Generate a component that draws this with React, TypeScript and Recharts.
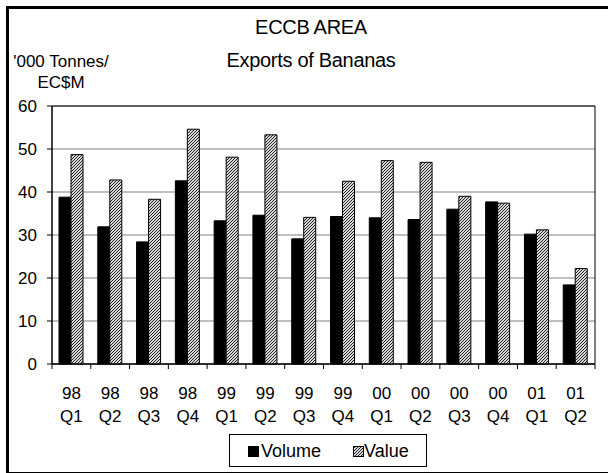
import React from 'react';
import { BarChart, Bar, XAxis, YAxis, CartesianGrid, ReferenceArea } from 'recharts';

const categories = ['98 Q1', '98 Q2', '98 Q3', '98 Q4', '99 Q1', '99 Q2', '99 Q3', '99 Q4', '00 Q1', '00 Q2', '00 Q3', '00 Q4', '01 Q1', '01 Q2'];
const volume = [38.8, 31.9, 28.4, 42.6, 33.3, 34.6, 29.1, 34.3, 34.0, 33.6, 36.0, 37.7, 30.2, 18.4];
const value = [48.7, 42.8, 38.3, 54.6, 48.1, 53.3, 34.1, 42.5, 47.3, 46.9, 39.0, 37.4, 31.2, 22.2];
const yTicks = [0, 10, 20, 30, 40, 50, 60];
const seriesNames = ['Volume', 'Value'];
const titleLines = ['ECCB AREA', 'Exports of Bananas'];
const yLabelLines = ["'000 Tonnes/", 'EC$M'];

const data = categories.map((c, i) => ({ cat: c, volume: volume[i], value: value[i] }));

const FONT = '"Liberation Sans", Arial, sans-serif';

const CatTick = (props: any) => {
  const { x, y, payload, index } = props;
  const off = payload && typeof payload.offset === 'number' ? payload.offset : 0;
  const parts = String(payload.value).split(' ');
  const last = index === categories.length - 1;
  return (
    <g>
      <line x1={x - off} y1={y} x2={x - off} y2={y + 5} stroke="#000" strokeWidth={1} />
      {last && <line x1={x + off} y1={y} x2={x + off} y2={y + 5} stroke="#000" strokeWidth={1} />}
      <text x={x} y={y + 35} textAnchor="middle" fontSize={17} fontFamily={FONT} fill="#000">{parts[0]}</text>
      <text x={x} y={y + 58} textAnchor="middle" fontSize={17} fontFamily={FONT} fill="#000">{parts[1]}</text>
    </g>
  );
};

const Hatch = ({ id }: { id: string }) => (
  <pattern id={id} width={3} height={3} patternUnits="userSpaceOnUse">
    <rect width={3} height={3} fill="#d8d8d8" />
    <path d="M0,3 L3,0 M-1,1 L1,-1 M2,4 L4,2" stroke="#222" strokeWidth={1} />
  </pattern>
);

export default function App() {
  return (
    <div style={{ position: 'absolute', left: 0, top: 0, width: 608, height: 473, background: '#fff', overflow: 'hidden', fontFamily: FONT }}>
      <div style={{ position: 'absolute', left: 6, top: 6, width: 640, height: 463, borderLeft: '3px solid #000', borderTop: '3px solid #000', borderBottom: '2px solid #000' }} />
      <BarChart width={608} height={473} data={data} margin={{ top: 106, right: 13, bottom: 0, left: 0 }} barGap={0} barSize={12}>
        <defs>
          <Hatch id="hatch" />
        </defs>
        <CartesianGrid horizontal={true} vertical={false} stroke="#808080" />
        <XAxis dataKey="cat" interval={0} height={109} tickSize={0} tickMargin={0} axisLine={{ stroke: '#000' }} tickLine={false} tick={<CatTick />} />
        <YAxis domain={[0, 60]} ticks={yTicks} width={52} tickSize={5} tickMargin={10} axisLine={{ stroke: '#000' }} tickLine={{ stroke: '#000' }} tick={{ fontSize: 17, fill: '#000', fontFamily: FONT }} interval={0} />
        <Bar dataKey="volume" name={seriesNames[0]} fill="#000" stroke="#000" strokeWidth={1} isAnimationActive={false} />
        <Bar dataKey="value" name={seriesNames[1]} fill="url(#hatch)" stroke="#000" strokeWidth={1} isAnimationActive={false} />
        <ReferenceArea y1={0} y2={60} fill="none" stroke="#000" strokeWidth={1} fillOpacity={0} />
      </BarChart>
      {titleLines.map((t, i) => (
        <div key={t} style={{ position: 'absolute', left: 161, width: 300, top: 15 + i * 33, textAlign: 'center', fontSize: 20, lineHeight: '24px', color: '#000', letterSpacing: -0.3 }}>{t}</div>
      ))}
      {yLabelLines.map((t, i) => (
        <div key={t} style={{ position: 'absolute', left: 0, width: 122, top: 51 + i * 21, textAlign: 'center', fontSize: 17, lineHeight: '22px', color: '#000' }}>{t}</div>
      ))}
      <div style={{ position: 'absolute', left: 229, top: 434, width: 196, height: 31, border: '1px solid #000', background: '#fff', fontSize: 18 }}>
        <svg width={12} height={12} style={{ position: 'absolute', left: 18, top: 11 }}>
          <rect x={0} y={0} width={11} height={11} fill="#000" />
        </svg>
        <div style={{ position: 'absolute', left: 31, top: 6, lineHeight: '20px', whiteSpace: 'nowrap' }}>{seriesNames[0]}</div>
        <svg width={12} height={12} style={{ position: 'absolute', left: 123, top: 11 }}>
          <defs>
            <Hatch id="hatchL" />
          </defs>
          <rect x={0.5} y={0.5} width={10} height={10} fill="url(#hatchL)" stroke="#000" />
        </svg>
        <div style={{ position: 'absolute', left: 134, top: 6, lineHeight: '20px', whiteSpace: 'nowrap' }}>{seriesNames[1]}</div>
      </div>
    </div>
  );
}
